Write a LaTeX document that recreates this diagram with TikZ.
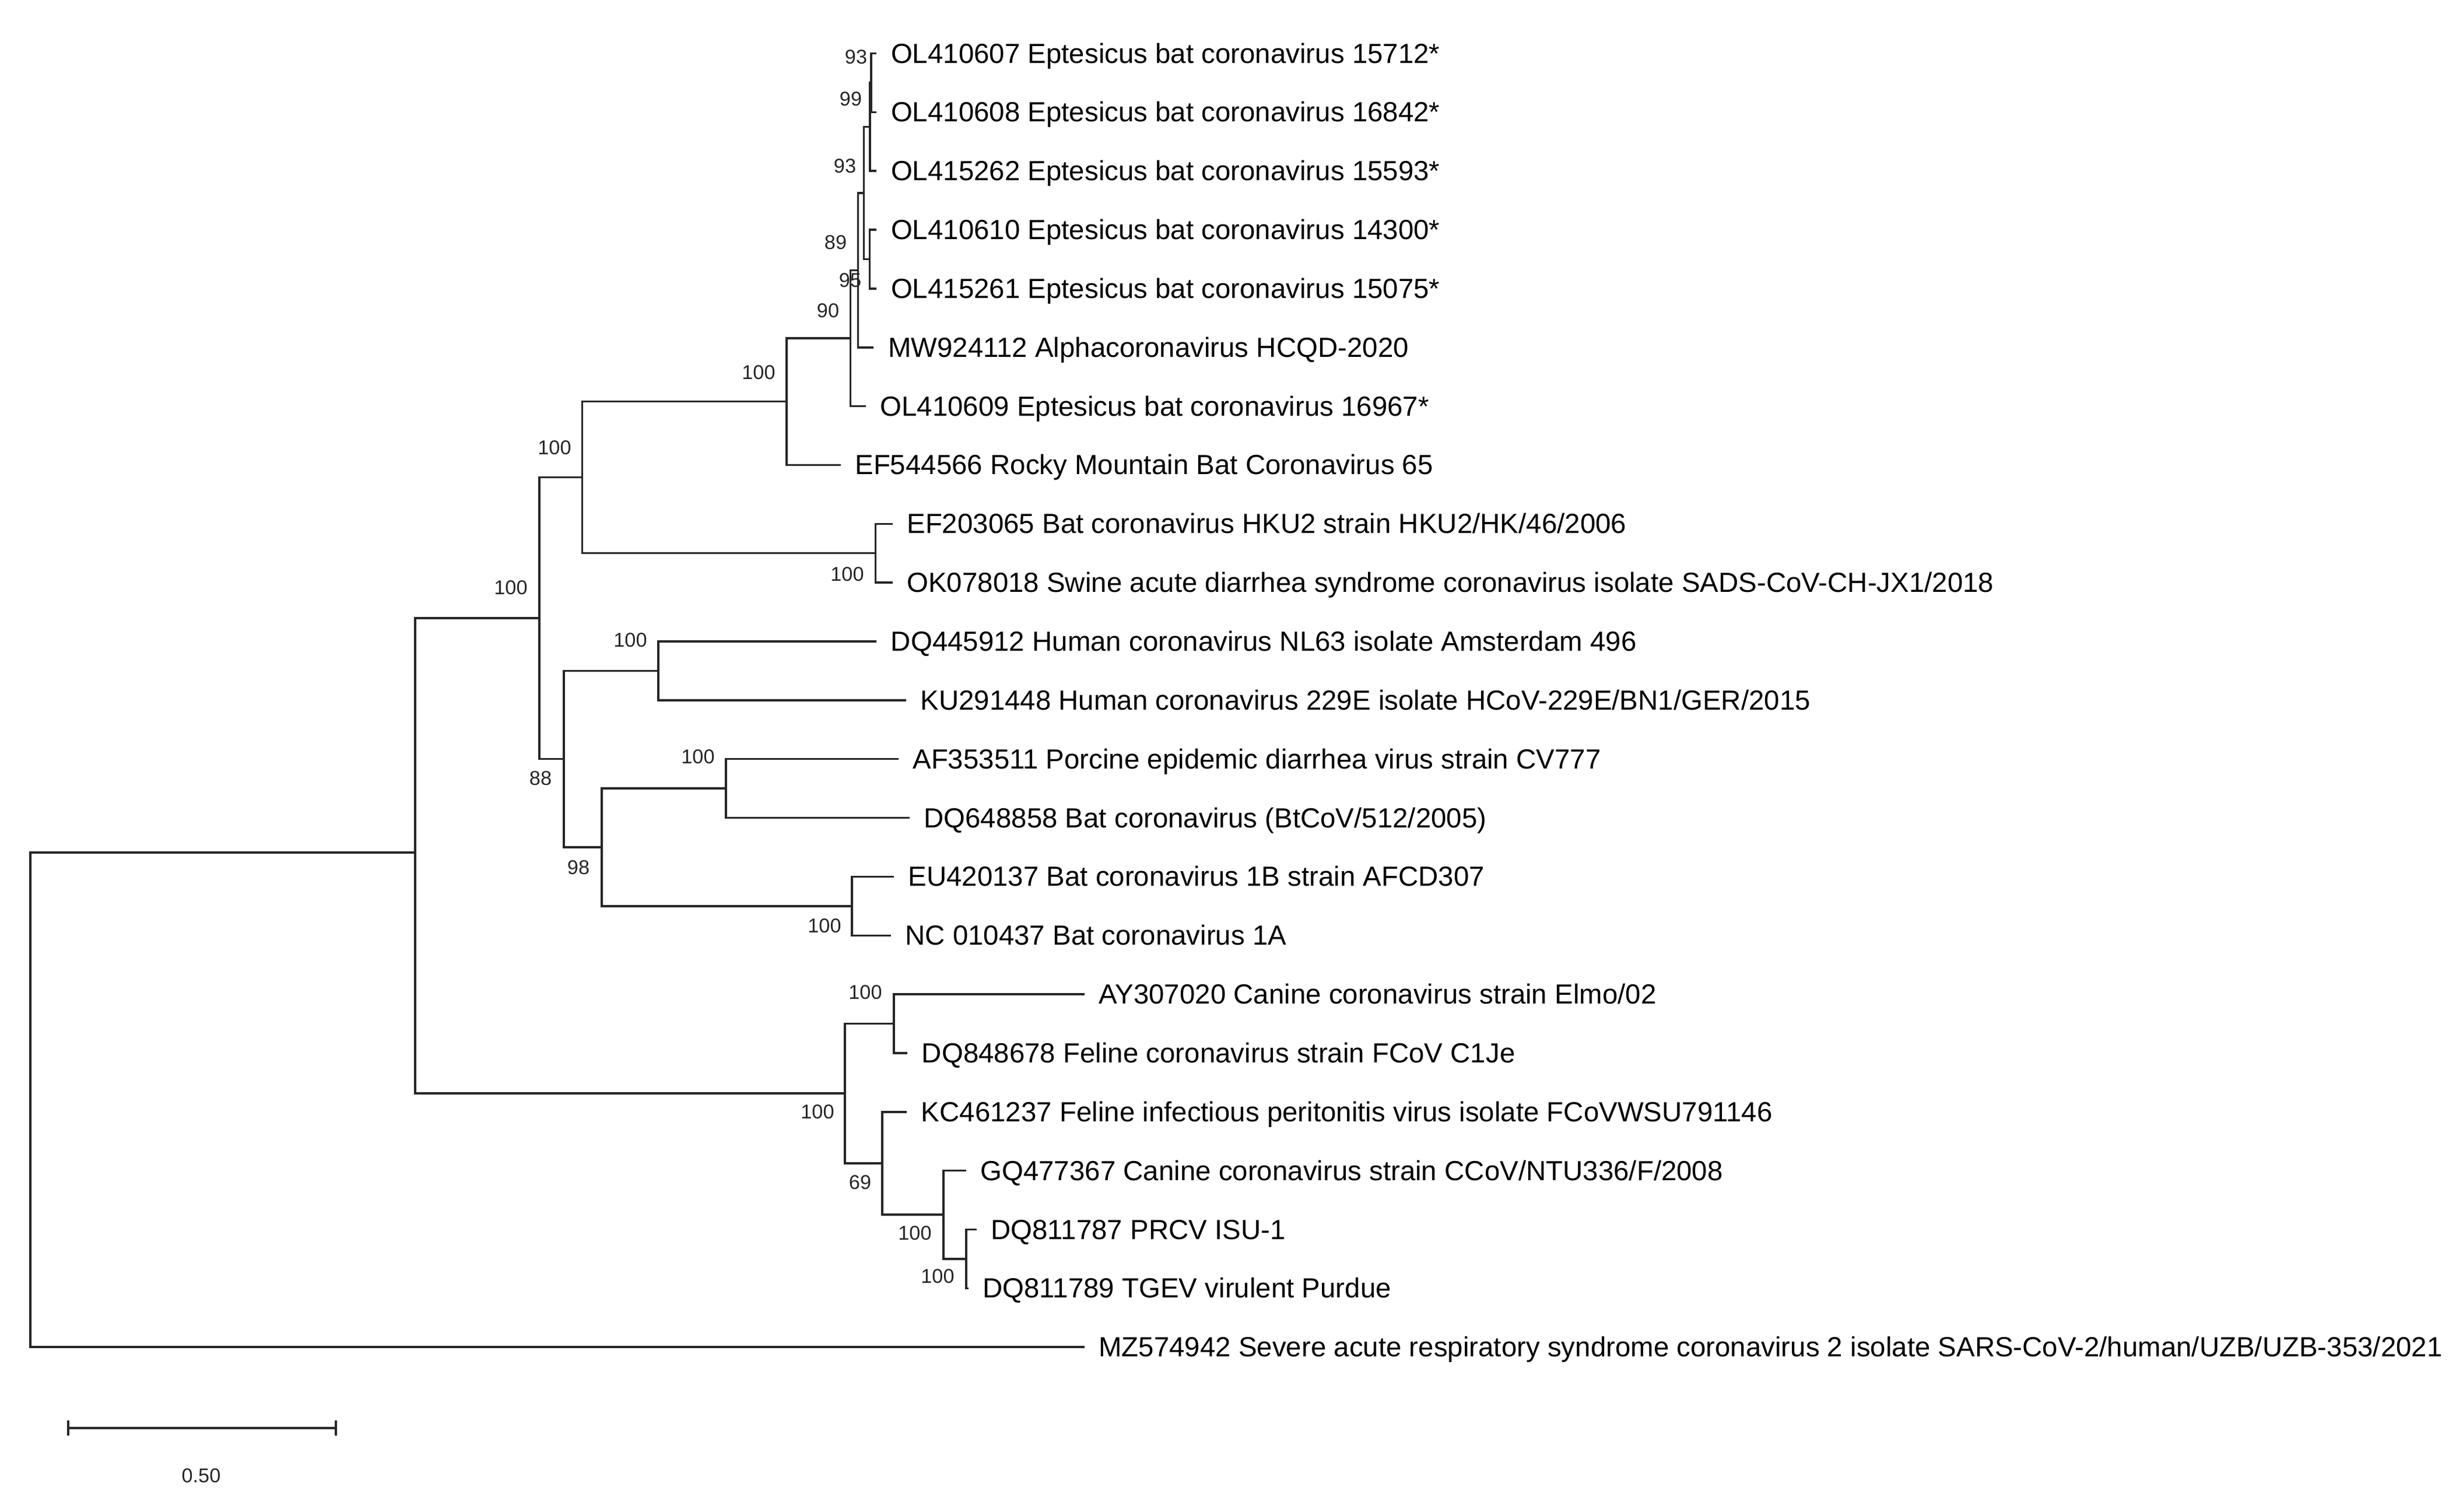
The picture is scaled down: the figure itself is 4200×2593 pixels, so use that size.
\documentclass[tikz,border=0pt]{standalone}
\usepackage{fontspec}
\setmainfont{Liberation Sans}
\begin{document}
\begin{tikzpicture}[x=0.02cm,y=-0.02cm,
  br/.style={line width=2pt,line cap=rect,color=black!85},
  leaf/.style={anchor=base west,inner sep=0pt,font=\fontsize{27}{30}\selectfont},
  sup/.style={anchor=center,inner sep=0pt,font=\fontsize{19.5}{22}\selectfont,color=black!85}]
\useasboundingbox (0,0) rectangle (4200,2593);
% leaf ends
\foreach \n/\x/\i in {l0/1501.7/0,l1/1501.7/1,l2/1501.7/2,l3/1501.7/3,l4/1501.7/4,l5/1496.7/5,l6/1483/6,l7/1440/7,l8/1529/8,l9/1529/9,l10/1501.5/10,l11/1552/11,l12/1539/12,l13/1558/13,l14/1531/14,l15/1526/15,l16/1858/16,l17/1554.5/17,l18/1553.6/18,l19/1655/19,l20/1673/20,l21/1659/21,l22/1858/22}
  \coordinate (\n) at (\x,{91.5+100.85*\i});
% internal nodes
\coordinate (M) at (1494,142);
\coordinate (K) at (1492,217.6);
\coordinate (L) at (1491.7,444.6);
\coordinate (J) at (1481.7,331);
\coordinate (I) at (1471.7,463.4);
\coordinate (H) at (1458.3,580);
\coordinate (F) at (1349,688.7);
\coordinate (G) at (1501.5,948.7);
\coordinate (D) at (998.5,818.7);
\coordinate (N) at (1129,1150.5);
\coordinate (P) at (1245,1352);
\coordinate (Q) at (1461,1553.8);
\coordinate (O) at (1032,1453);
\coordinate (E) at (967,1301.7);
\coordinate (B) at (925,1060);
\coordinate (R) at (1533,1755.5);
\coordinate (U) at (1657,2159);
\coordinate (T) at (1618,2083);
\coordinate (S) at (1513,1995);
\coordinate (C) at (1449,1875);
\coordinate (A) at (712,1462);
\coordinate (Z) at (52,1880);
% branches
\foreach \p/\a/\b in {M/l0/l1,K/M/l2,L/l3/l4,J/K/L,I/J/l5,H/I/l6,F/H/l7,G/l8/l9,D/F/G,N/l10/l11,P/l12/l13,Q/l14/l15,O/P/Q,E/N/O,B/D/E,R/l16/l17,U/l20/l21,T/l19/U,S/l18/T,C/R/S,A/B/C,Z/A/l22}
  \draw[br] (\a) -- (\p |- \a) -- (\p |- \b) -- (\b);
% leaf labels
\foreach \n/\t in {l0/{OL410607 Eptesicus bat coronavirus 15712*},
  l1/{OL410608 Eptesicus bat coronavirus 16842*},
  l2/{OL415262 Eptesicus bat coronavirus 15593*},
  l3/{OL410610 Eptesicus bat coronavirus 14300*},
  l4/{OL415261 Eptesicus bat coronavirus 15075*},
  l5/{MW924112 Alphacoronavirus HCQD-2020},
  l6/{OL410609 Eptesicus bat coronavirus 16967*},
  l7/{EF544566 Rocky Mountain Bat Coronavirus 65},
  l8/{EF203065 Bat coronavirus HKU2 strain HKU2/HK/46/2006},
  l9/{OK078018 Swine acute diarrhea syndrome coronavirus isolate SADS-CoV-CH-JX1/2018},
  l10/{DQ445912 Human coronavirus NL63 isolate Amsterdam 496},
  l11/{KU291448 Human coronavirus 229E isolate HCoV-229E/BN1/GER/2015},
  l12/{AF353511 Porcine epidemic diarrhea virus strain CV777},
  l13/{DQ648858 Bat coronavirus (BtCoV/512/2005)},
  l14/{EU420137 Bat coronavirus 1B strain AFCD307},
  l15/{NC 010437 Bat coronavirus 1A},
  l16/{AY307020 Canine coronavirus strain Elmo/02},
  l17/{DQ848678 Feline coronavirus strain FCoV C1Je},
  l18/{KC461237 Feline infectious peritonitis virus isolate FCoVWSU791146},
  l19/{GQ477367 Canine coronavirus strain CCoV/NTU336/F/2008},
  l20/{DQ811787 PRCV ISU-1},
  l21/{DQ811789 TGEV virulent Purdue},
  l22/{MZ574942 Severe acute respiratory syndrome coronavirus 2 isolate SARS-CoV-2/human/UZB/UZB-353/2021}}
  \node[leaf] (t\n) at ([xshift=26*0.02cm,yshift=-16.5*0.02cm]\n) {\t};
% support values
\foreach \x/\y/\v [count=\k] in {1468/98/93,1459/170/99,1449/285/93,1433/416/89,1458/481/95,1420/533/90,1301/639/100,876/1008/100,951/768/100,1453/985/100,1081/1098/100,927/1335/88,1197/1298/100,992/1488/98,1414/1588/100,1484/1702/100,1402/1907/100,1475/2028/69,1569/2115/100,1608/2189/100}
  \node[sup] (s\k) at (\x,\y) {\v};
% scale bar
\coordinate (sb1) at (117,2449);
\coordinate (sb2) at (576,2449);
\draw[br,line cap=butt] (sb1) -- (sb2);
\draw[br,line cap=butt] ([yshift=13*0.02cm]sb1) -- ([yshift=-13*0.02cm]sb1);
\draw[br,line cap=butt] ([yshift=13*0.02cm]sb2) -- ([yshift=-13*0.02cm]sb2);
\node[sup] (sbl) at (345,2531) {0.50};
\end{tikzpicture}
\end{document}
